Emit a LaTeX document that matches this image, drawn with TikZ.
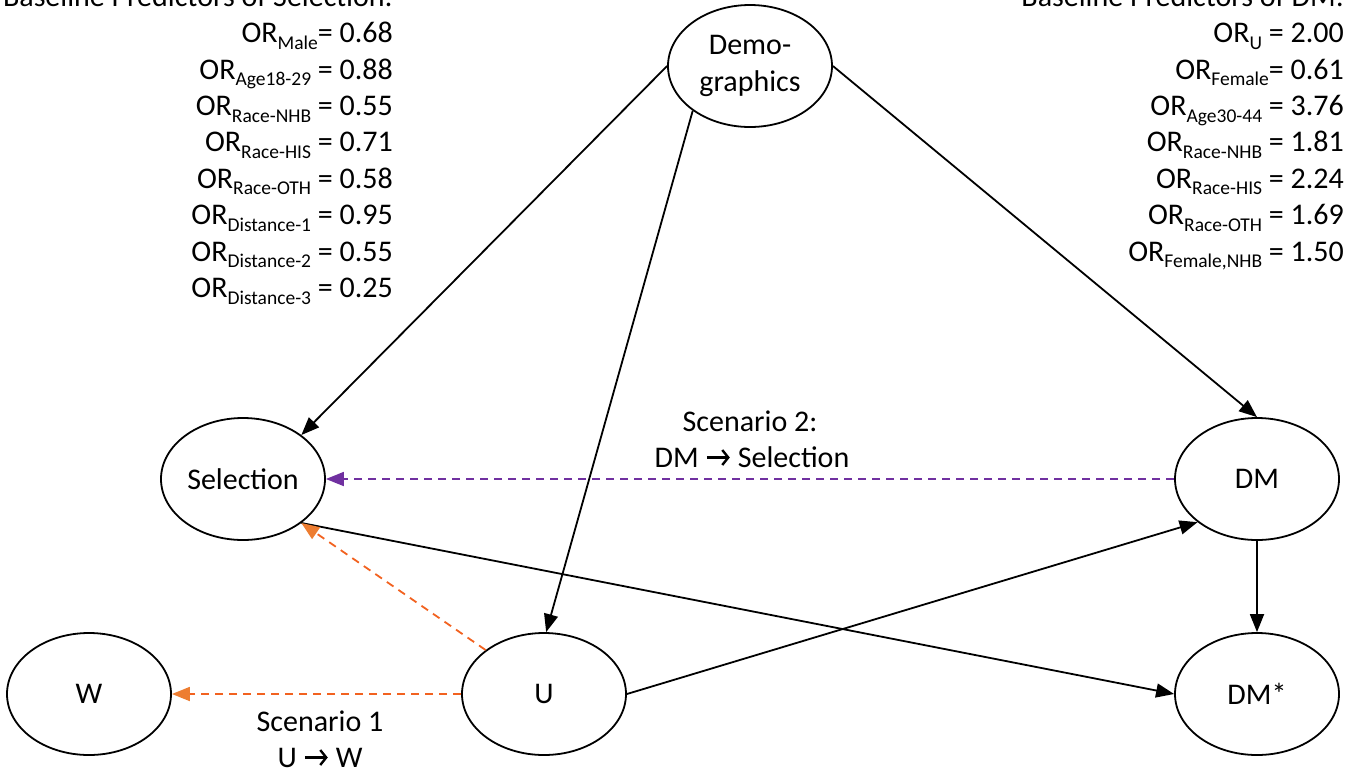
\documentclass[tikz,border=0pt]{standalone}
\usepackage{fontspec}
\setmainfont{Carlito}
\usetikzlibrary{shapes.geometric,arrows.meta}

\definecolor{scenpurple}{RGB}{112,48,160}
\definecolor{scenorange}{RGB}{242,98,32}
\definecolor{tiporange}{RGB}{237,125,49}

% subscript of an odds ratio, smaller and lowered
\newcommand\orsub[1]{\raisebox{-6.5pt}{\fontsize{19.5}{19.5}\selectfont #1}}
% heavy right arrow used in the scenario labels
\newcommand\rarr{\tikz[baseline=-9.5pt]\draw[line width=2.4pt,
  -{Straight Barb[length=6pt,width=15pt,line width=2.4pt]}] (0pt,0pt) -- (23pt,0pt);}

\begin{document}
\begin{tikzpicture}[x=1pt,y=-1pt,
  font=\fontsize{30}{36.6}\selectfont,
  var/.style={draw, ellipse, line width=1.8pt, minimum width=164pt,
    minimum height=122pt, inner sep=0pt, align=center},
  causal/.style={line width=1.8pt, -{Triangle[length=18pt,width=14pt]}},
  scentwo/.style={line width=1.8pt, draw=scenpurple, dash pattern=on 8pt off 6pt,
    -{Triangle[length=18pt,width=14pt,color=scenpurple]}},
  scenone/.style={line width=1.8pt, draw=scenorange, dash pattern=on 8pt off 6pt,
    -{Triangle[length=18pt,width=14pt,color=tiporange]}},
  orline/.style={anchor=base east, inner sep=0pt},
  lbl/.style={anchor=base, inner sep=0pt}]

\useasboundingbox (0,0) rectangle (1347,772);

% variables
\node[var] (demo) at (750,66)   {\raisebox{-3pt}{\parbox{3.6em}{\centering Demo-\\graphics}}};
\node[var] (sel)  at (243,479)  {Selection};
\node[var] (dm)   at (1257,479) {DM};
\node[var] (w)    at (89,694)   {W};
\node[var] (u)    at (544,694)  {U};
\node[var] (dms)  at (1257,694) {DM*};

% causal paths
\draw[causal] (demo.west) -- (sel.37);
\draw[causal] (demo.218)  -- (u.88);
\draw[causal] (demo.east) -- (dm.north);
\draw[causal] (sel.323)   -- (dms.west);
\draw[causal] (u.east)    -- (dm.216);
\draw[causal] (dm.south)  -- (dms.north);

% scenario paths
\draw[scentwo] (dm.west) -- (sel.east);
\draw[scenone] (u.143)   -- (sel.323);
\draw[scenone] (u.west)  -- (w.east);

% scenario labels
\node[lbl] (s2a) at (750,431) {Scenario 2:};
\node[lbl] (s2b) at (752,467) {DM \rarr{} Selection};
\node[lbl] (s1a) at (320,731) {Scenario 1};
\node[lbl] (s1b) at (320,767) {U \rarr{} W};

% predictors of selection
\node[orline] (selt) at (393,6.3)   {Baseline Predictors of Selection:};
\node[orline] (sl1)  at (393,42.7)  {OR\orsub{Male}= 0.68};
\node[orline] (sl2)  at (393,79.1)  {OR\orsub{Age18-29} = 0.88};
\node[orline] (sl3)  at (393,115.5) {OR\orsub{Race-NHB} = 0.55};
\node[orline] (sl4)  at (393,151.9) {OR\orsub{Race-HIS} = 0.71};
\node[orline] (sl5)  at (393,188.3) {OR\orsub{Race-OTH} = 0.58};
\node[orline] (sl6)  at (393,224.7) {OR\orsub{Distance-1} = 0.95};
\node[orline] (sl7)  at (393,261.1) {OR\orsub{Distance-2} = 0.55};
\node[orline] (sl8)  at (393,297.5) {OR\orsub{Distance-3} = 0.25};

% predictors of DM
\node[orline] (dmt) at (1344,6.3)   {Baseline Predictors of DM:};
\node[orline] (dl1) at (1344,42.7)  {OR\orsub{U} = 2.00};
\node[orline] (dl2) at (1344,79.1)  {OR\orsub{Female}= 0.61};
\node[orline] (dl3) at (1344,115.5) {OR\orsub{Age30-44} = 3.76};
\node[orline] (dl4) at (1344,151.9) {OR\orsub{Race-NHB} = 1.81};
\node[orline] (dl5) at (1344,188.3) {OR\orsub{Race-HIS} = 2.24};
\node[orline] (dl6) at (1344,224.7) {OR\orsub{Race-OTH} = 1.69};
\node[orline] (dl7) at (1344,261.1) {OR\orsub{Female,NHB} = 1.50};

\end{tikzpicture}
\end{document}
